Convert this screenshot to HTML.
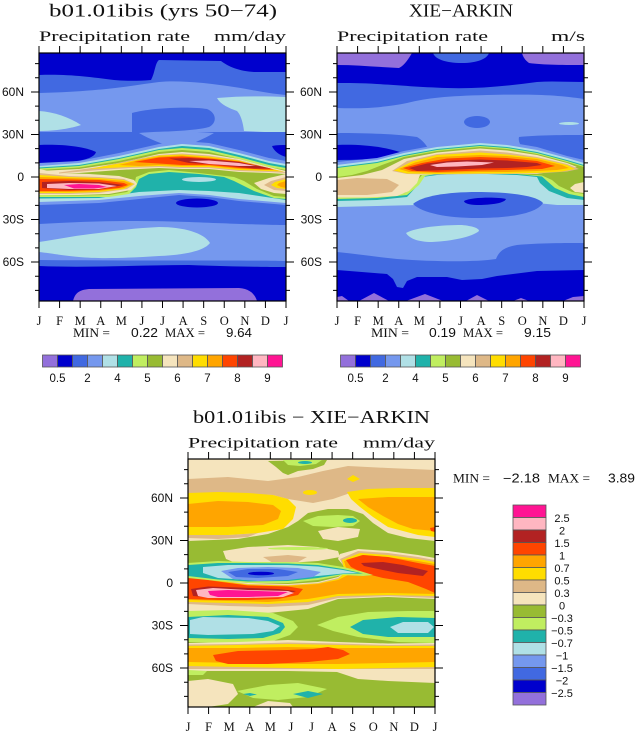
<!DOCTYPE html>
<html><head><meta charset="utf-8">
<style>
html,body{margin:0;padding:0;background:#fff}
svg{display:block}
.p{fill:#9370DB}.mb{fill:#0000CD}.rb{fill:#4169E1}.cf{fill:#7598EE}.pb{fill:#B0E0E6}.te{fill:#20B2AA}
.lg{fill:#C0EE60}.og{fill:#98BB33}.wh{fill:#F5E4BD}.bw{fill:#DEB887}.gd{fill:#FFDD00}.or{fill:#FFA500}
.orr{fill:#FF4500}.fb{fill:#B22222}.lp{fill:#FFB6C1}.dp{fill:#FF1493}
.s{font-family:"Liberation Serif",serif;fill:#111}
.a{font-family:"Liberation Sans",sans-serif;fill:#111}
</style></head>
<body>
<svg xmlns="http://www.w3.org/2000/svg" width="636" height="732" viewBox="0 0 636 732">
<rect width="636" height="732" fill="#fff"/>
<defs>
<clipPath id="c"><rect x="0" y="0" width="247" height="248"/></clipPath>
<g id="ax">
<rect x="0" y="0" width="247" height="248" fill="none" stroke="#000" stroke-width="1.2"/>
<path stroke="#000" stroke-width="1" fill="none" d="M-8,38.97H0M-8,81.49H0M-8,124H0M-8,166.51H0M-8,209.03H0M-4,10.63H0M-4,24.8H0M-4,53.14H0M-4,67.31H0M-4,95.66H0M-4,109.83H0M-4,138.17H0M-4,152.34H0M-4,180.69H0M-4,194.86H0M-4,223.2H0M-4,237.37H0M247,38.97H255M247,81.49H255M247,124H255M247,166.51H255M247,209.03H255M247,10.63H251M247,24.8H251M247,53.14H251M247,67.31H251M247,95.66H251M247,109.83H251M247,138.17H251M247,152.34H251M247,180.69H251M247,194.86H251M247,223.2H251M247,237.37H251M0,0V-7M20.58,0V-7M41.17,0V-7M61.75,0V-7M82.33,0V-7M102.92,0V-7M123.5,0V-7M144.08,0V-7M164.67,0V-7M185.25,0V-7M205.83,0V-7M226.42,0V-7M247,0V-7M0,248V255M20.58,248V255M41.17,248V255M61.75,248V255M82.33,248V255M102.92,248V255M123.5,248V255M144.08,248V255M164.67,248V255M185.25,248V255M205.83,248V255M226.42,248V255M247,248V255"/>
<g class="a" font-size="12" text-anchor="end">
<text x="-15" y="43">60N</text><text x="-15" y="85.5">30N</text><text x="-15" y="128">0</text><text x="-15" y="170.5">30S</text><text x="-15" y="213">60S</text>
</g>
<g class="s" font-size="12.5" text-anchor="middle">
<text x="0" y="272">J</text><text x="20.58" y="272">F</text><text x="41.17" y="272">M</text><text x="61.75" y="272">A</text><text x="82.33" y="272">M</text><text x="102.92" y="272">J</text><text x="123.5" y="272">J</text><text x="144.08" y="272">A</text><text x="164.67" y="272">S</text><text x="185.25" y="272">O</text><text x="205.83" y="272">N</text><text x="226.42" y="272">D</text><text x="247" y="272">J</text>
</g>
</g>
</defs>

<!-- ================= PANEL A (model) ================= -->
<g transform="translate(39,53)">
<g clip-path="url(#c)">
<rect width="247" height="248" class="cf"/>
<path class="rb" d="M0,0H247V42C225,40 210,36 195,34C170,30 140,27 120,29C95,32 70,38 0,40Z"/>
<path class="mb" d="M0,0H247V19L215,19C200,18 190,14 182,8L120,7C116,10 116,20 112,27C100,28 85,28 75,27C50,24 30,21 0,22Z"/>
<path class="pb" d="M0,58C15,59 30,64 42,72C30,76 15,78 0,78Z"/>
<path class="pb" d="M178,45C200,43 225,43 247,44V80L205,78C204,70 202,62 198,58C190,55 182,52 178,45Z"/>
<path class="rb" d="M93,60C110,55 150,53 168,56C178,60 178,70 170,74C155,78 130,78 108,80L93,80Z"/>
<rect y="79" width="247" height="137" class="rb"/>
<path class="cf" d="M100,80C120,78 150,78 175,80C165,86 150,92 140,96C125,92 110,86 100,80Z"/>
<path class="mb" d="M0,92C20,91 45,93 57,99C55,106 40,110 0,110Z"/>
<path class="mb" d="M233,93C238,92 243,92 247,92V104C240,102 235,98 233,93Z"/>
<path class="cf" d="M0,171C50,168 100,167 150,169C200,171 230,172 247,172V208C200,207 100,208 0,207Z"/>
<path class="pb" d="M0,189C20,186 40,182 60,180C80,177 100,175 120,174C145,174 165,180 171,190C165,198 145,202 120,203C90,205 60,206 40,204C20,202 10,200 0,199Z"/>
<path class="mb" d="M0,213C50,215 100,212 150,212C200,214 247,214 247,214V248H0Z"/>
<path class="p" d="M34,248C36,240 40,237 50,236L200,235C212,236 216,242 218,248Z"/>
<!-- tropics -->
<polygon class="cf" points="0,110 40,108 80,100 120,91 143,88 170,90 200,97 230,105 247,108 247,152 200,148 170,144 140,142 100,146 60,150 0,152"/>
<polygon class="pb" points="0,113 40,110 80,103 120,94 143,91 170,93 200,100 230,108 247,111 247,150 200,146 170,142 140,140 100,143 60,147 0,149"/>
<polygon class="te" points="0,114.5 40,112 80,105 120,96 143,93 170,95 200,102 230,110 247,113 247,147 200,140 170,138 140,137 100,139 60,145 0,145.5"/>
<ellipse class="pb" cx="160" cy="126.5" rx="17" ry="2.5"/>
<polygon class="lg" points="0,115.5 40,113 80,106 120,97 143,95 170,97 200,104 230,112 247,115 247,146 235,145 215,138 195,128 185,124 160,121 130,119 110,121 100,126 97,134 90,141 70,144 40,144 0,144"/>
<polygon class="og" points="0,117 40,114.5 80,108 120,99 143,97 170,99 200,106 230,114 247,117 247,144 235,143 218,136 205,128 195,124 160,120 130,117 110,119 97,124 95,133 88,139 70,142 40,142.5 0,142"/>
<polygon class="wh" points="0,118 40,116 80,110 120,101 143,99 170,101 200,106 230,114 247,118 247,121 230,120 200,119 170,116 143,116 120,115 80,117 40,120 0,121"/>
<polygon class="wh" points="0,116 20,120 50,121 80,123 95,127 98,131 92,137 70,141 40,142 0,142"/>
<polygon class="wh" points="247,121 230,125 215,130 222,136 235,140 247,141"/>
<polygon class="bw" points="20,119.5 60,114 90,107.5 120,102 143,100.5 170,102.5 200,107 230,115 247,119.5 247,120 230,119 200,118 170,115 143,115 120,114 90,115 60,117 20,120.5"/>
<polygon class="bw" points="0,120 30,123 60,124 85,126 96,131 88,136 60,140 30,141 0,141"/>
<polygon class="bw" points="247,124 232,128 225,132 235,137 247,138"/>
<polygon class="gd" points="50,116 90,108.5 120,102.5 143,101.5 170,103.5 200,107.5 230,115.5 245,118.5 230,118 200,117 170,114 143,114 120,113 90,114"/>
<polygon class="gd" points="0,122 30,124 60,125 85,127 95,131 85,136 60,139 30,140 0,140"/>
<polygon class="gd" points="247,126 236,129 232,132 238,135 247,136"/>
<polygon class="or" points="80,112 100,107 120,103.5 143,102.5 170,104.5 200,108 230,116 240,117.5 230,117 200,116 170,113 143,113 120,112 100,113"/>
<polygon class="or" points="0,124 30,125 60,126 85,128 93,131 85,135 60,138 30,139 0,139"/>
<polygon class="or" points="247,128 240,130 238,132 242,134 247,135"/>
<polygon class="orr" points="95,109 120,104.5 143,103.5 170,105.5 200,108.5 225,114 235,116.5 225,116.5 200,115 170,112 143,112 120,110.5"/>
<polygon class="orr" points="0,126 30,126.5 60,127 85,130 89,132 80,135 60,137 30,138 0,138"/>
<polygon class="fb" points="130,105.5 150,105 175,106.5 200,109 232,115.5 215,115.5 200,114 175,111.5 150,110"/>
<polygon class="fb" points="3,129 30,128 60,129 85,132 60,136.5 30,137 3,135"/>
<polygon class="lp" points="150,108 170,107.5 200,110 217,113 200,113 170,111"/>
<polygon class="lp" points="8,131 30,130 60,130.5 78,133 60,136 30,136 8,135"/>
<polygon class="dp" points="25,132 40,131 60,132 68,134 55,135.5 35,135.5"/>
<ellipse class="mb" cx="158" cy="150" rx="21" ry="4.5"/>
</g>
<use href="#ax"/>
</g>

<!-- ================= PANEL B (obs) ================= -->
<g transform="translate(337,53)">
<g clip-path="url(#c)">
<rect width="247" height="248" class="cf"/>
<path class="rb" d="M0,0H247V46C220,42 200,41 150,42C110,43 90,45 70,50C50,54 30,56 0,55Z"/>
<path class="mb" d="M0,0H247V29C230,29 215,28 200,29C170,33 140,36 110,35C80,34 60,32 40,31C25,30 10,30 0,30Z"/>
<path class="rb" d="M96,0H152C150,6 140,10 125,10C108,10 98,6 96,0Z"/>
<path class="p" d="M0,0H75C72,5 68,12 62,15C40,14 20,12 0,12Z"/>
<path class="p" d="M185,0H247V12C230,12 205,12 192,10C188,7 186,4 185,0Z"/>
<ellipse class="rb" cx="140" cy="69" rx="13" ry="6"/>
<ellipse class="pb" cx="232" cy="70.5" rx="10" ry="1.5"/>
<path class="rb" d="M0,80C30,80 60,81 80,84C90,90 95,100 95,112L0,112Z"/>
<path class="rb" d="M247,82C230,82 200,82 182,84C180,92 190,100 200,108L247,108Z"/>
<path class="mb" d="M0,92C20,91 45,93 63,99C55,105 35,107 0,107Z"/>
<path class="pb" d="M69,180C80,174 105,172 125,172C135,173 142,175 142,178C135,184 115,188 95,189C80,189 72,185 69,180Z"/>
<path class="rb" d="M0,199C20,201 40,204 60,206C100,209 140,209 159,206C162,198 168,194 180,192C200,190 230,190 247,190V248H0Z"/>
<polygon class="mb" points="0,217 50,221 56,226 60,234 66,235 70,228 80,224 110,224 125,227 145,226 160,223 200,218 247,217 247,248 0,248"/>
<polygon class="p" points="0,244 5,243 12,248 0,248"/>
<polygon class="p" points="22,248 37,240 52,248"/>
<polygon class="p" points="69,248 88,241 106,248"/>
<polygon class="p" points="129,248 140,242 152,248"/>
<polygon class="p" points="176,248 184,245 192,248"/>
<polygon class="p" points="226,248 236,244 247,243 247,248"/>
<!-- tropics -->
<polygon class="cf" points="0,109 40,105 67,98 100,92 143,87 170,89 200,94 230,103 247,107 247,155 0,156"/>
<polygon class="pb" points="0,112 40,107 67,100 100,94 143,90 170,92 200,97 230,105 247,110 247,152 220,152 200,150 160,150 120,150 80,152 40,153 0,154"/>
<path class="rb" d="M76,151C85,143 110,139 140,139C175,139 200,143 206,150C200,160 175,165 140,165C110,165 85,160 76,151Z"/>
<path class="mb" d="M127,148C135,144 160,144 169,146C167,151 150,152 140,152C132,152 127,150 127,148Z"/>
<polygon class="te" points="0,114 40,109 67,102 100,96 143,92 170,94 200,99 230,107 247,112 247,147 230,145 212,138 203,130 200,124 180,122 150,121 120,121 100,122 85,124 80,133 70,144 40,147 0,148"/>
<polygon class="lg" points="0,115 40,110 67,103 100,97 143,93 170,95 200,100 230,108 247,113 247,144 232,141 218,135 210,128 205,123.5 180,121 150,120 120,120 100,121 88,123 82,132 70,142 40,145 0,146"/>
<polygon class="og" points="0,124 15,122 30,118 45,112 67,104 100,98 143,94 170,96 200,101 230,109 247,114 247,141 235,139 222,133 215,127 205,122.5 150,119 100,120 85,122 78,130 68,140 40,143 0,143"/>
<polygon class="wh" points="0,125 25,122 45,117 67,106 100,99.5 143,95.5 170,97.5 200,102 230,110 240,114 230,116 200,121 170,121 140,121 100,121 83,122 80,130 72,138 60,143 30,144.5 0,144.5"/>
<polygon class="wh" points="247,129 238,131 233,135 238,139 247,140"/>
<polygon class="bw" points="0,127 20,125 50,126 62,132 55,139 30,142 0,142"/>
<polygon class="bw" points="55,118 70,108 100,101 143,97.5 170,99.5 200,104 230,111 242,116 230,118.5 200,120.5 170,121 143,121 100,121.5 70,121"/>
<polygon class="gd" points="57,117.5 75,108.5 100,102 143,99.5 170,101.5 200,105 230,112 238,116 225,118.5 200,120 170,120.5 143,120.5 100,121 70,120.5"/>
<polygon class="or" points="62,116 78,109.5 100,104 143,102 170,103 200,106 225,112 232,115 220,117 200,118 170,119 143,119 100,120 72,119"/>
<polygon class="orr" points="66,115 85,110 110,105.5 143,104 170,105 200,108 218,113 205,116 170,117 143,117.5 100,119 75,118"/>
<polygon class="fb" points="72,115 90,110.5 115,107.5 143,106.5 170,107.5 200,110 205,112 190,114 170,115 143,115.5 110,117 80,118"/>
<polygon class="lp" points="93,112 110,109.5 130,108.5 157,109.5 145,112 120,113.5 100,114"/>
</g>
<use href="#ax"/>
</g>

<!-- ================= PANEL C (diff) ================= -->
<g transform="translate(188,459)">
<g clip-path="url(#c)">
<rect width="247" height="248" class="og"/>
<polygon class="wh" points="0,0 247,0 247,82 220,79 200,74 185,64 175,55 160,50 140,50 120,54 110,62 100,68 80,75 50,80 0,82"/>
<polygon class="og" points="80,2 139,1 136,6 125,10 110,12 100,16 95,14 88,8"/>
<polygon class="lg" points="95,1 134,1 128,5 112,7 100,6"/>
<ellipse class="te" cx="117" cy="3.5" rx="7" ry="1.5"/>
<polygon class="bw" points="0,20 40,18 80,22 110,18 135,12 160,7 200,9 247,11 247,33 220,31 190,30 165,33 145,40 125,44 100,40 85,36 60,35 0,34"/>
<polygon class="bw" points="0,76 40,76 70,74 60,78 30,80 0,79"/>
<polygon class="gd" points="0,34 30,33 60,34 85,36 100,40 108,48 105,60 95,70 70,74 40,76 0,76"/>
<polygon class="or" points="0,45 30,42 60,43 85,46 93,52 90,60 75,66 40,68 0,68"/>
<ellipse class="gd" cx="122" cy="33.5" rx="7" ry="2.5"/>
<polygon class="gd" points="159,20 165,16 172,20 165,23"/>
<polygon class="gd" points="159,33 180,30 210,29 247,29 247,78 230,76 215,72 200,68 185,58 172,48 163,40"/>
<polygon class="or" points="170,40 200,38 247,38 247,72 225,70 210,65 195,57 180,48"/>
<polygon class="orr" points="242,69 247,68 247,73 243,72"/>
<polygon class="lg" points="115,62 130,57 150,56 165,57 172,62 165,67 145,68 125,67"/>
<ellipse class="te" cx="162" cy="61.5" rx="7" ry="2.5"/>
<polygon class="wh" points="130,72 150,68 172,70 170,78 150,82 135,80"/>
<polygon class="wh" points="35,92 60,88 100,86 130,88 150,92 152,98 130,102 100,104 80,105 50,105 38,100"/>
<polygon class="bw" points="75,98 100,96 119,98 110,103 85,104"/>
<ellipse class="lg" cx="110" cy="89.5" rx="30" ry="1.5"/>
<!-- positive tropical -->
<polygon class="wh" points="0,116 30,120 60,124 100,125 130,123 150,118 160,112 150,100 152,95 170,90 200,92 230,96 247,99 247,140 200,138 150,140 120,150 80,154 40,154 0,152"/>
<polygon class="bw" points="0,116.5 30,121 60,125 100,126 130,124 150,119 158,113 152,100 170,92 200,94 230,98 247,101 247,139 200,137 150,139 120,146 80,148 40,147 0,145"/>
<polygon class="gd" points="0,117 30,121.5 60,125.5 100,126.5 130,124.5 150,120 157,114 154,101 172,94 200,96 230,100 247,103 247,137 200,136 150,137 120,143 80,145 40,144 0,143"/>
<polygon class="or" points="0,117.5 30,122 60,126 100,127 130,125 150,121 160,116 156,102 174,96 200,98 230,102 247,105 247,135 200,134 150,135 120,140 80,143 40,142 0,141"/>
<polygon class="orr" points="0,118 30,122.5 60,126.5 100,127.5 115,130 110,136 90,140 60,141 30,141 0,140"/>
<polygon class="orr" points="158,101 175,96 200,98 230,104 247,107 247,134 238,130 220,123 195,119 175,114 163,108"/>
<polygon class="fb" points="3,130 20,127.5 50,128.5 90,130 108,132 95,137 60,139 30,139 5,137"/>
<polygon class="fb" points="173,104 195,103 215,106 240,112 235,117 210,114 190,110 176,107"/>
<polygon class="lp" points="8,131 25,129 60,131 100,132 106,134 95,138 60,139 20,139 10,137"/>
<polygon class="dp" points="20,132 40,131 70,132 100,133 90,137 60,138 30,138 22,136"/>
<!-- negative tropical -->
<polygon class="lg" points="0,104 30,102 60,103 100,103 130,104 155,108 172,112 185,116 175,117 155,116 130,121 100,124 60,124 30,122 0,119"/>
<polygon class="te" points="0,106 30,104 60,104 100,104.5 130,106 155,110 175,114.5 155,115 130,119 100,122 60,122.5 30,120.5 0,117"/>
<polygon class="pb" points="15,108 40,106 100,106 130,107.5 155,111 170,114 155,114.5 130,117 100,120 60,121 30,119 15,114"/>
<polygon class="cf" points="33,112 50,109 80,108 110,109 133,113 125,118 100,121 70,122 45,120"/>
<polygon class="rb" points="40,113 60,110 90,110 110,113 100,117 70,119 48,118"/>
<ellipse class="mb" cx="73" cy="114.5" rx="13" ry="1.8"/>
<!-- south -->
<polygon class="lg" points="0,152 40,151 85,154 105,162 110,168 102,176 85,182 40,184 0,183"/>
<polygon class="te" points="0,158 40,156 80,158 95,164 97,168 92,174 75,179 40,180 0,179"/>
<polygon class="pb" points="2,161 15,158 60,159 80,162 92,167 85,172 65,175 20,176 2,175"/>
<polygon class="lg" points="129,166 150,158 180,153 220,152 247,152 247,184 210,183 170,178 145,172"/>
<polygon class="te" points="162,168 175,161 210,158 247,159 247,178 200,178 175,175"/>
<polygon class="pb" points="202,168 215,163 240,163 246,168 240,174 210,174"/>
<polygon class="wh" points="0,184 50,183 100,181 150,183 200,184.5 247,184 247,213 200,212 150,213 100,212 50,212 0,212"/>
<polygon class="bw" points="0,185.5 50,185 100,183.5 150,184.5 200,186 247,185.5 247,210 0,210"/>
<polygon class="gd" points="0,187 50,186 100,185 150,186 200,187 247,187 247,208 200,209 150,210 100,209 50,208 0,207"/>
<polygon class="or" points="0,189 50,189 100,188 150,189 200,189 247,189 247,203 200,204 150,205 100,205 50,204 0,203"/>
<polygon class="orr" points="25,196 50,192 100,191 125,190 140,188 155,191 162,195 150,200 120,203 80,205 40,205 28,202"/>
<polygon class="wh" points="149,213 180,211 247,211 247,224 200,222 170,220"/>
<polygon class="wh" points="0,222 20,220 45,225 50,235 40,245 20,248 0,248"/>
<polygon class="lg" points="49,232 80,226 110,224 139,230 120,238 90,241 65,239"/>
<polygon class="te" points="105,235 120,232 135,235 120,239"/>
<polygon class="te" points="55,235 62,234 69,235.5 62,237"/>
<polygon class="wh" points="65,248 80,242 102,244 105,248"/>
<polygon class="lg" points="0,211 19,212 15,216 0,216"/>
</g>
<use href="#ax"/>
</g>

<!-- ================= TITLES ================= -->
<text class="s" x="163" y="16.5" font-size="17.5" text-anchor="middle" textLength="228" lengthAdjust="spacingAndGlyphs">b01.01ibis (yrs 50−74)</text>
<text class="s" x="39" y="41" font-size="15" textLength="151" lengthAdjust="spacingAndGlyphs">Precipitation rate</text>
<text class="s" x="214" y="41" font-size="15" textLength="72" lengthAdjust="spacingAndGlyphs">mm/day</text>

<text class="s" x="461" y="16.5" font-size="17.5" text-anchor="middle" textLength="104" lengthAdjust="spacingAndGlyphs">XIE−ARKIN</text>
<text class="s" x="337" y="41" font-size="15" textLength="151" lengthAdjust="spacingAndGlyphs">Precipitation rate</text>
<text class="s" x="551" y="41" font-size="15" textLength="34" lengthAdjust="spacingAndGlyphs">m/s</text>

<text class="s" x="311.5" y="423" font-size="17.5" text-anchor="middle" textLength="237" lengthAdjust="spacingAndGlyphs">b01.01ibis − XIE−ARKIN</text>
<text class="s" x="188" y="447.5" font-size="15" textLength="150" lengthAdjust="spacingAndGlyphs">Precipitation rate</text>
<text class="s" x="363" y="447.5" font-size="15" textLength="72" lengthAdjust="spacingAndGlyphs">mm/day</text>

<!-- MIN / MAX -->
<g font-size="12.5">
<text class="s" x="73" y="337" textLength="37" lengthAdjust="spacingAndGlyphs">MIN =</text>
<text class="a" x="131" y="337" textLength="27" lengthAdjust="spacingAndGlyphs">0.22</text>
<text class="s" x="165" y="337" textLength="40" lengthAdjust="spacingAndGlyphs">MAX =</text>
<text class="a" x="226" y="337" textLength="26" lengthAdjust="spacingAndGlyphs">9.64</text>

<text class="s" x="371" y="337" textLength="38" lengthAdjust="spacingAndGlyphs">MIN =</text>
<text class="a" x="429" y="337" textLength="27" lengthAdjust="spacingAndGlyphs">0.19</text>
<text class="s" x="463" y="337" textLength="40" lengthAdjust="spacingAndGlyphs">MAX =</text>
<text class="a" x="524" y="337" textLength="27" lengthAdjust="spacingAndGlyphs">9.15</text>

<text class="s" x="453" y="482.5" textLength="37" lengthAdjust="spacingAndGlyphs">MIN =</text>
<text class="a" x="503" y="482.5" textLength="37" lengthAdjust="spacingAndGlyphs">−2.18</text>
<text class="s" x="548" y="482.5" textLength="42" lengthAdjust="spacingAndGlyphs">MAX =</text>
<text class="a" x="608" y="482.5" textLength="27" lengthAdjust="spacingAndGlyphs">3.89</text>
</g>

<!-- ================= COLORBARS ================= -->
<g id="cb1" stroke="#555" stroke-width="0.8">
<rect class="p" x="42.5" y="355" width="15" height="12"/>
<rect class="mb" x="57.5" y="355" width="15" height="12"/>
<rect class="rb" x="72.5" y="355" width="15" height="12"/>
<rect class="cf" x="87.5" y="355" width="15" height="12"/>
<rect class="pb" x="102.5" y="355" width="15" height="12"/>
<rect class="te" x="117.5" y="355" width="15" height="12"/>
<rect class="lg" x="132.5" y="355" width="15" height="12"/>
<rect class="og" x="147.5" y="355" width="15" height="12"/>
<rect class="wh" x="162.5" y="355" width="15" height="12"/>
<rect class="bw" x="177.5" y="355" width="15" height="12"/>
<rect class="gd" x="192.5" y="355" width="15" height="12"/>
<rect class="or" x="207.5" y="355" width="15" height="12"/>
<rect class="orr" x="222.5" y="355" width="15" height="12"/>
<rect class="fb" x="237.5" y="355" width="15" height="12"/>
<rect class="lp" x="252.5" y="355" width="15" height="12"/>
<rect class="dp" x="267.5" y="355" width="15" height="12"/>
</g>
<g class="a" font-size="11.5" text-anchor="middle">
<text x="57.5" y="382">0.5</text><text x="87.5" y="382">2</text><text x="117.5" y="382">4</text><text x="147.5" y="382">5</text><text x="177.5" y="382">6</text><text x="207.5" y="382">7</text><text x="237.5" y="382">8</text><text x="267.5" y="382">9</text>
</g>
<use href="#cb1" x="298"/>
<g class="a" font-size="11.5" text-anchor="middle">
<text x="355.5" y="382">0.5</text><text x="385.5" y="382">2</text><text x="415.5" y="382">4</text><text x="445.5" y="382">5</text><text x="475.5" y="382">6</text><text x="505.5" y="382">7</text><text x="535.5" y="382">8</text><text x="565.5" y="382">9</text>
</g>

<g stroke="#555" stroke-width="0.8">
<rect class="dp" x="513" y="505" width="33" height="12.5"/>
<rect class="lp" x="513" y="517.5" width="33" height="12.5"/>
<rect class="fb" x="513" y="530" width="33" height="12.5"/>
<rect class="orr" x="513" y="542.5" width="33" height="12.5"/>
<rect class="or" x="513" y="555" width="33" height="12.5"/>
<rect class="gd" x="513" y="567.5" width="33" height="12.5"/>
<rect class="bw" x="513" y="580" width="33" height="12.5"/>
<rect class="wh" x="513" y="592.5" width="33" height="12.5"/>
<rect class="og" x="513" y="605" width="33" height="12.5"/>
<rect class="lg" x="513" y="617.5" width="33" height="12.5"/>
<rect class="te" x="513" y="630" width="33" height="12.5"/>
<rect class="pb" x="513" y="642.5" width="33" height="12.5"/>
<rect class="cf" x="513" y="655" width="33" height="12.5"/>
<rect class="rb" x="513" y="667.5" width="33" height="12.5"/>
<rect class="mb" x="513" y="680" width="33" height="12.5"/>
<rect class="p" x="513" y="692.5" width="33" height="12.5"/>
</g>
<g class="a" font-size="11" text-anchor="middle">
<text x="562" y="522">2.5</text>
<text x="562" y="534.5">2</text>
<text x="562" y="547">1.5</text>
<text x="562" y="559.5">1</text>
<text x="562" y="572">0.7</text>
<text x="562" y="584.5">0.5</text>
<text x="562" y="597">0.3</text>
<text x="562" y="609.5">0</text>
<text x="562" y="622">−0.3</text>
<text x="562" y="634.5">−0.5</text>
<text x="562" y="647">−0.7</text>
<text x="562" y="659.5">−1</text>
<text x="562" y="672">−1.5</text>
<text x="562" y="684.5">−2</text>
<text x="562" y="697">−2.5</text>
</g>
</svg>
</body></html>
